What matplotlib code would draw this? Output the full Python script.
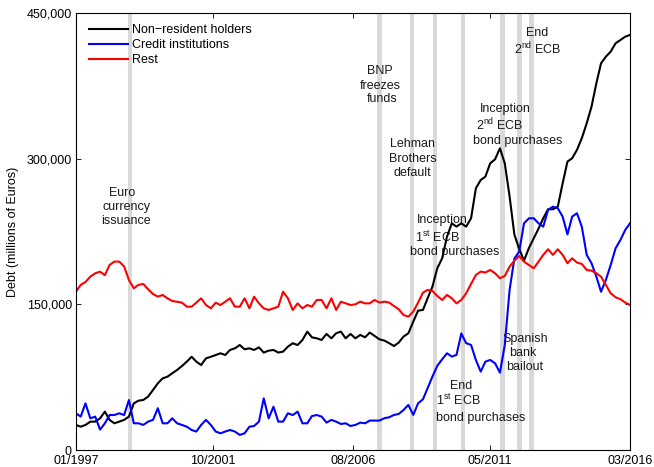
import numpy as np
import pandas as pd
import matplotlib
matplotlib.use("Agg")
import matplotlib.pyplot as plt
from matplotlib.ticker import FuncFormatter

plt.rcParams["font.family"] = ["Liberation Sans", "DejaVu Sans"]
plt.rcParams["mathtext.fontset"] = "custom"
plt.rcParams["mathtext.rm"] = "Liberation Sans"
plt.rcParams["mathtext.it"] = "Liberation Sans:italic"
plt.rcParams["mathtext.bf"] = "Liberation Sans:bold"

# Bi-monthly observations, Jan 1997 - Mar 2016 (thousands of millions of euros)
dates = pd.date_range("1997-01-01", periods=116, freq="2MS")

non_resident = [
    25.8, 24, 25.8, 29.2, 29.2, 32.6, 39.5, 31, 27.5, 29.2,
    31, 34.4, 48, 50.8, 51.5, 55, 61.8, 68.7, 73.8, 75.5,
    79, 82.4, 86.5, 91, 96, 91, 87.5, 94.4, 96, 97.8,
    99.6, 97.8, 103, 104.7, 108.1, 103.7, 104.7, 103, 105.7, 100.3,
    102.3, 103, 100.3, 101.3, 106.4, 109.9, 108.1, 113.3, 121.9, 116,
    115, 113.3, 119.5, 115, 120.2, 121.9, 115, 119.5, 115, 118.5,
    116, 120.9, 117.5, 114, 112.7, 110, 107.1, 110.6, 116.8, 120.2,
    132.2, 143.5, 144.2, 156.2, 168.2, 187.1, 197.4, 219.7, 233.4, 230,
    233.4, 230, 238.6, 269.5, 278, 281.5, 295.2, 299.3, 310.7, 295.2,
    261, 222, 207, 195, 208, 218, 228, 238.6, 247.9, 247.9,
    250.6, 274.6, 297, 300.4, 309, 321, 336.4, 353.6, 377.6, 398.2,
    405, 410.2, 418.8, 422.2, 425.6, 427.4,
]

credit_institutions = [
    37.8, 34.4, 48, 32.6, 34.4, 21, 27.5, 36, 36, 37.8,
    36, 51.5, 27.5, 27.5, 25.8, 29.2, 31, 43, 27.5, 27.5,
    32.6, 27.5, 25.8, 24, 20.6, 19, 25.8, 31, 25.8, 19,
    17.2, 19, 20.6, 19, 15.5, 17.2, 24, 24.7, 29.2, 53.2,
    32.6, 44.6, 29.2, 29.2, 37.8, 36, 39.5, 27.5, 27.5, 35,
    36, 34.4, 28.2, 31, 29.2, 26.8, 27.5, 24.7, 25.8, 28.2,
    27.5, 30.3, 30.3, 30.3, 32.7, 33.7, 36.1, 37.1, 41.2, 46.4,
    36.1, 48.1, 52.2, 63.6, 75.6, 86.6, 93.4, 99.6, 96.2, 97.9,
    120, 110, 108.2, 92.7, 80.7, 91, 92.7, 89.3, 79.7, 108,
    165, 197, 204.3, 233.4, 238.6, 238.6, 233.4, 230, 247.2, 250.6,
    248.9, 240.3, 222, 240.3, 243.8, 230, 200.9, 192.3, 178.5, 163,
    175, 190.5, 207.7, 216.3, 226.6, 233.4,
]

rest = [
    163, 170, 173, 178.5, 182, 183.6, 180, 190.5, 194, 194,
    189, 175, 166.5, 170, 171, 165.5, 160.6, 157.9, 159.6, 156.2,
    153.4, 152.7, 151.7, 147.6, 147.6, 151.7, 156.2, 149.3, 145.9, 151.7,
    149.3, 152.7, 156.2, 147.6, 147.6, 156.2, 145.9, 157.9, 151, 145.9,
    144.2, 145.9, 147.6, 163, 156.2, 144.2, 151, 145.9, 149.3, 147.6,
    154.5, 154.5, 145.9, 156.2, 144.2, 152.7, 151, 149.3, 150, 152.8,
    151, 151, 154.5, 151.8, 152.8, 151.8, 148.3, 144.9, 139, 137.3,
    142.5, 151.8, 162, 164.8, 163.8, 158.6, 154.5, 159.7, 156.2, 151,
    154.5, 161.4, 171, 180.2, 183.7, 182.7, 185.4, 182, 176.8, 179.2,
    188.8, 195, 199.8, 194, 190.5, 187.1, 194, 200.9, 206.7, 200.9,
    206.7, 200.9, 192.3, 197.4, 193, 191.6, 185.4, 184.7, 182, 178.5,
    170, 161.4, 157.3, 155.2, 151.8, 149.4,
]

series_labels = ["Non\u2212resident holders", "Credit institutions", "Rest"]
series_colors = ["black", "blue", "red"]

event_dates = pd.to_datetime([
    "1998-11-15", "2007-07-01", "2008-08-15", "2009-06-01",
    "2010-05-25", "2011-10-01", "2012-05-05", "2012-10-01",
])

tick_dates = pd.to_datetime(["1997-01-01", "2001-10-01", "2006-08-01",
                             "2011-05-01", "2016-03-01"])
tick_labels = ["01/1997", "10/2001", "08/2006", "05/2011", "03/2016"]
y_ticks = [0, 150000, 300000, 450000]

# Event annotations: (text, x, y) in axes fraction
annotations = [
    ("Euro", 0.0836, 0.5888),
    ("currency", 0.0906, 0.5554),
    ("issuance", 0.0908, 0.5247),
    ("BNP", 0.5487, 0.8673),
    ("freezes", 0.5496, 0.8330),
    ("funds", 0.5523, 0.8025),
    ("Lehman", 0.6069, 0.6995),
    ("Brothers", 0.6088, 0.6659),
    ("default", 0.6078, 0.6346),
    ("Inception", 0.6612, 0.5263),
    (r"1$^{\mathrm{st}}$ ECB", 0.6525, 0.4870),
    ("bond purchases", 0.6832, 0.4538),
    ("End", 0.6955, 0.1471),
    (r"1$^{\mathrm{st}}$ ECB", 0.6901, 0.1125),
    ("bond purchases", 0.7307, 0.0739),
    ("Inception", 0.7756, 0.7810),
    (r"2$^{\mathrm{nd}}$ ECB", 0.7653, 0.7435),
    ("bond purchases", 0.7969, 0.7078),
    ("Spanish", 0.8110, 0.2540),
    ("bank", 0.8074, 0.2227),
    ("bailout", 0.8092, 0.1906),
    ("End", 0.8325, 0.9549),
    (r"2$^{\mathrm{nd}}$ ECB", 0.8345, 0.9170),
]

fig = plt.figure(figsize=(6.54, 4.67), dpi=100)
ax = fig.add_axes([0.1162, 0.0364, 0.8471, 0.9358])

half_width = pd.Timedelta(days=28)
for d in event_dates:
    ax.axvspan(d - half_width, d + half_width, color="#d9d9d9", lw=0, zorder=0.5)

for text, x, y in annotations:
    ax.text(x, y, text, transform=ax.transAxes, ha="center", va="center",
            fontsize=9, color="#1a1a1a", zorder=1)

for vals, lab, col in zip([non_resident, credit_institutions, rest],
                          series_labels, series_colors):
    ax.plot(dates, np.asarray(vals) * 1000, color=col, lw=1.5, label=lab, zorder=2)

ax.set_xlim(tick_dates[0], tick_dates[-1])
ax.set_ylim(0, 450000)
ax.set_xticks(tick_dates)
ax.set_xticklabels(tick_labels)
ax.set_yticks(y_ticks)
ax.yaxis.set_major_formatter(FuncFormatter(lambda v, p: f"{v:,.0f}"))
ax.tick_params(direction="in", top=True, right=True, length=3.6, width=0.6,
               labelsize=9, pad=3)
ax.tick_params(axis="x", pad=3.6)
for sp in ax.spines.values():
    sp.set_linewidth(0.8)

ax.set_ylabel("Debt (millions of Euros)", fontsize=9)
ax.yaxis.set_label_coords(-0.1137, 0.5)
ax.yaxis.label.set_va("center")

ax.legend(loc="upper left", bbox_to_anchor=(0.0235, 0.975), frameon=False,
          borderpad=0, borderaxespad=0, handlelength=3.1, handletextpad=0.3,
          labelspacing=0.25, fontsize=9)

fig.savefig("out.png", dpi=100)
